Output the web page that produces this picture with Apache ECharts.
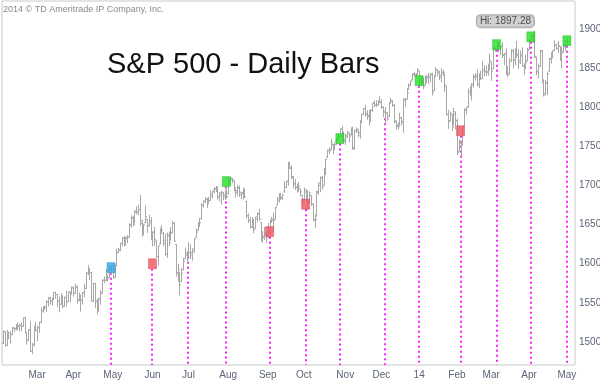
<!DOCTYPE html>
<html>
<head>
<meta charset="utf-8">
<script src="https://cdn.jsdelivr.net/npm/echarts@6/dist/echarts.min.js"></script>
<style>
html,body{margin:0;padding:0;background:#fff;}
#chart{width:600px;height:382px;}
</style>
</head>
<body>
<div id="chart"></div>
<script>
// Trading days per month (categories)
const tradingMonths = [
  ['2013-02',[1,4,5,6,7,8,11,12,13,14,15,19,20,21,22,25,26,27,28]],
  ['2013-03',[1,4,5,6,7,8,11,12,13,14,15,18,19,20,21,22,25,26,27,28]],
  ['2013-04',[1,2,3,4,5,8,9,10,11,12,15,16,17,18,19,22,23,24,25,26,29,30]],
  ['2013-05',[1,2,3,6,7,8,9,10,13,14,15,16,17,20,21,22,23,24,28,29,30,31]],
  ['2013-06',[3,4,5,6,7,10,11,12,13,14,17,18,19,20,21,24,25,26,27,28]],
  ['2013-07',[1,2,3,5,8,9,10,11,12,15,16,17,18,19,22,23,24,25,26,29,30,31]],
  ['2013-08',[1,2,5,6,7,8,9,12,13,14,15,16,19,20,21,22,23,26,27,28,29,30]],
  ['2013-09',[3,4,5,6,9,10,11,12,13,16,17,18,19,20,23,24,25,26,27,30]],
  ['2013-10',[1,2,3,4,7,8,9,10,11,14,15,16,17,18,21,22,23,24,25,28,29,30,31]],
  ['2013-11',[1,4,5,6,7,8,11,12,13,14,15,18,19,20,21,22,25,26,27,29]],
  ['2013-12',[2,3,4,5,6,9,10,11,12,13,16,17,18,19,20,23,24,26,27,30,31]],
  ['2014-01',[2,3,6,7,8,9,10,13,14,15,16,17,21,22,23,24,27,28,29,30,31]],
  ['2014-02',[3,4,5,6,7,10,11,12,13,14,18,19,20,21,24,25,26,27,28]],
  ['2014-03',[3,4,5,6,7,10,11,12,13,14,17,18,19,20,21,24,25,26,27,28,31]],
  ['2014-04',[1,2,3,4,7,8,9,10,11,14,15,16,17,21,22,23,24,25,28,29,30]],
  ['2014-05',[1,2,5,6,7]]
];

// Daily bars [open, high, low, close], one per trading day from 2013-02-01 to 2014-05-01
const dailyBars = [
 // Feb 2013
 [1498.1,1514.4,1498.1,1513.2],[1513.2,1513.2,1495.0,1495.7],[1495.7,1514.8,1495.7,1511.3],[1511.3,1512.5,1504.0,1512.1],
 [1512.1,1512.9,1498.5,1509.4],[1509.4,1518.3,1509.4,1517.9],[1517.9,1518.3,1513.6,1517.0],[1517.0,1522.3,1515.6,1519.4],
 [1519.4,1524.7,1515.9,1520.3],[1520.3,1523.1,1514.0,1521.4],[1521.4,1524.2,1514.1,1519.8],[1519.8,1530.9,1519.8,1530.9],
 [1530.9,1530.9,1511.4,1511.9],[1511.9,1511.9,1497.3,1502.4],[1502.4,1515.6,1502.4,1515.6],[1515.6,1525.8,1487.9,1487.9],
 [1487.9,1497.9,1485.0,1496.9],[1496.9,1520.1,1494.9,1516.0],[1516.0,1525.3,1514.5,1514.7],
 // Mar 2013
 [1514.7,1520.0,1501.5,1518.2],[1518.2,1525.3,1512.3,1525.2],[1525.2,1543.5,1525.2,1539.8],[1539.8,1545.3,1538.1,1541.5],
 [1541.5,1545.8,1541.5,1544.3],[1544.3,1552.5,1539.0,1551.2],[1551.2,1556.3,1546.0,1556.2],[1556.2,1556.8,1548.2,1552.5],
 [1552.5,1556.4,1547.4,1554.5],[1554.5,1563.3,1554.5,1563.2],[1563.2,1563.6,1555.7,1560.7],[1560.7,1560.7,1545.1,1552.1],
 [1552.1,1557.3,1538.6,1548.3],[1548.3,1561.6,1548.3,1558.7],[1558.7,1558.7,1543.6,1545.8],[1545.8,1557.7,1545.8,1556.9],
 [1556.9,1564.9,1546.2,1551.7],[1551.7,1563.9,1551.7,1563.8],[1563.8,1564.1,1551.5,1562.9],[1562.9,1570.3,1561.1,1569.2],
 // Apr 2013
 [1569.2,1570.6,1558.5,1562.2],[1562.2,1573.7,1562.2,1570.3],[1570.3,1571.5,1549.8,1553.7],[1553.7,1562.6,1552.5,1560.0],
 [1560.0,1560.0,1539.5,1553.3],[1553.3,1563.1,1548.6,1563.1],[1563.1,1573.9,1557.9,1568.6],[1568.6,1589.1,1568.6,1587.7],
 [1587.7,1597.4,1586.2,1593.4],[1593.3,1593.3,1580.0,1588.9],[1588.8,1588.8,1552.3,1552.4],[1552.4,1575.3,1552.4,1574.6],
 [1574.6,1574.6,1543.7,1552.0],[1552.0,1554.4,1536.0,1541.6],[1541.6,1555.9,1539.4,1555.3],[1555.3,1565.6,1548.2,1562.5],
 [1562.5,1579.6,1562.5,1578.8],[1578.8,1583.0,1575.8,1578.8],[1578.8,1592.6,1578.8,1585.2],[1585.2,1585.8,1577.6,1582.2],
 [1582.3,1596.7,1582.3,1593.6],[1593.6,1597.6,1586.5,1597.6],
 // May 2013
 [1597.6,1597.6,1581.3,1582.7],[1582.8,1598.6,1582.8,1597.6],[1597.6,1618.5,1597.6,1614.4],[1614.4,1619.8,1614.2,1617.5],
 [1617.5,1626.0,1616.6,1626.0],[1626.0,1632.8,1622.7,1632.7],[1632.7,1635.0,1623.1,1626.7],[1626.7,1633.7,1623.7,1633.7],
 [1632.1,1636.0,1626.7,1633.8],[1633.8,1651.1,1633.8,1650.3],[1649.1,1661.5,1646.7,1658.8],[1658.1,1660.5,1648.6,1650.5],
 [1652.5,1667.5,1652.5,1667.5],[1665.7,1672.8,1663.5,1666.3],[1666.2,1674.9,1662.7,1669.2],[1669.4,1687.2,1648.9,1655.4],
 [1651.6,1655.5,1635.5,1650.5],[1646.7,1649.8,1636.9,1649.6],[1652.6,1674.2,1652.6,1660.1],[1656.6,1656.6,1640.1,1648.4],
 [1649.1,1661.9,1648.6,1654.4],[1652.1,1659.0,1630.7,1630.7],
 // Jun 2013
 [1631.7,1640.4,1622.7,1640.4],[1640.7,1646.5,1623.6,1631.4],[1629.1,1629.3,1608.4,1608.9],[1609.4,1622.6,1598.2,1622.6],
 [1625.3,1644.4,1625.3,1643.4],[1644.7,1648.7,1639.3,1642.8],[1638.6,1640.1,1622.9,1626.1],[1629.9,1637.7,1610.9,1612.5],
 [1612.2,1639.3,1608.1,1636.4],[1635.5,1640.8,1623.0,1626.7],[1630.6,1646.5,1630.3,1639.0],[1639.8,1654.2,1639.8,1651.8],
 [1651.8,1652.5,1628.9,1628.9],[1624.6,1624.6,1584.3,1588.2],[1588.6,1599.2,1577.7,1592.4],[1588.8,1588.8,1560.3,1573.1],
 [1577.5,1593.8,1577.1,1588.0],[1592.3,1606.8,1592.3,1603.3],[1606.4,1620.1,1606.4,1613.2],[1611.1,1615.9,1601.1,1606.3],
 // Jul 2013
 [1609.8,1626.6,1609.8,1614.1],[1614.3,1624.3,1606.8,1614.1],[1611.5,1619.0,1604.6,1615.4],[1618.7,1632.1,1614.7,1631.9],
 [1634.2,1644.7,1634.2,1640.5],[1642.9,1652.5,1642.9,1652.3],[1652.5,1657.9,1647.7,1652.6],[1657.4,1676.6,1657.4,1675.0],
 [1675.3,1680.2,1672.3,1680.2],[1679.6,1684.5,1677.9,1682.5],[1682.7,1683.7,1671.8,1676.3],[1677.9,1684.8,1677.9,1680.9],
 [1681.1,1693.1,1681.1,1689.4],[1686.2,1692.1,1684.1,1692.1],[1694.4,1697.6,1690.7,1695.5],[1696.1,1698.8,1692.1,1692.4],
 [1696.1,1698.4,1682.6,1685.9],[1685.2,1690.9,1680.2,1690.3],[1687.3,1691.9,1676.0,1691.7],[1690.3,1690.9,1681.9,1685.3],
 [1687.9,1693.2,1682.4,1686.0],[1687.8,1698.4,1684.9,1685.7],
 // Aug 2013
 [1689.4,1707.9,1689.4,1706.9],[1706.1,1709.7,1700.7,1709.7],[1708.0,1709.2,1703.6,1707.1],[1705.8,1705.8,1693.3,1697.4],
 [1695.3,1695.3,1684.9,1690.9],[1693.4,1700.2,1687.1,1697.5],[1696.1,1699.4,1686.0,1691.4],[1688.4,1691.5,1683.4,1689.5],
 [1690.7,1696.8,1682.6,1694.2],[1693.9,1695.5,1684.8,1685.4],[1679.6,1679.6,1658.6,1661.3],[1661.2,1663.6,1652.6,1655.8],
 [1655.3,1659.2,1646.1,1646.1],[1646.8,1658.9,1646.1,1652.4],[1650.7,1657.0,1639.4,1642.8],[1645.0,1659.6,1645.0,1657.0],
 [1659.9,1664.9,1653.7,1663.5],[1664.3,1669.5,1656.0,1656.8],[1652.5,1652.5,1629.1,1630.5],[1630.2,1641.2,1627.5,1635.0],
 [1633.5,1646.4,1630.9,1638.2],[1638.9,1640.1,1628.0,1633.0],
 // Sep 2013
 [1636.0,1651.4,1633.4,1639.8],[1640.7,1655.7,1637.4,1653.1],[1653.3,1659.2,1653.1,1655.1],[1657.4,1664.8,1640.6,1655.2],
 [1656.9,1672.4,1656.9,1671.7],[1675.1,1684.1,1675.1,1684.0],[1681.0,1689.1,1678.7,1689.1],[1689.2,1690.0,1682.0,1683.4],
 [1685.0,1688.7,1682.2,1688.0],[1691.7,1705.0,1691.7,1697.6],[1697.7,1705.5,1697.7,1704.8],[1705.7,1729.4,1700.4,1725.5],
 [1727.3,1729.9,1721.6,1722.3],[1722.4,1725.2,1708.9,1709.9],[1711.4,1711.4,1697.1,1701.8],[1702.6,1707.6,1694.9,1697.4],
 [1698.0,1701.7,1691.9,1692.8],[1694.1,1703.9,1693.1,1698.7],[1695.5,1695.5,1687.1,1691.8],[1687.3,1687.3,1675.0,1681.6],
 // Oct 2013
 [1682.4,1696.6,1682.1,1695.0],[1691.9,1693.9,1680.3,1693.9],[1692.4,1692.4,1670.4,1678.7],[1678.8,1691.9,1677.3,1690.5],
 [1687.2,1687.2,1674.7,1676.1],[1676.2,1676.8,1655.0,1655.5],[1657.0,1662.5,1646.5,1656.4],[1660.9,1692.6,1660.9,1692.6],
 [1691.1,1703.4,1688.5,1703.2],[1699.9,1711.0,1692.1,1710.1],[1709.2,1711.6,1695.5,1698.1],[1700.5,1721.8,1700.5,1721.5],
 [1720.2,1733.4,1714.1,1733.2],[1736.7,1745.3,1735.7,1744.5],[1745.2,1747.8,1740.7,1744.7],[1746.5,1759.3,1746.5,1754.7],
 [1752.3,1752.3,1740.5,1746.4],[1747.5,1753.9,1745.5,1752.1],[1756.0,1759.8,1752.5,1759.8],[1759.4,1765.0,1757.7,1762.1],
 [1762.9,1772.1,1762.9,1772.0],[1772.3,1775.2,1757.2,1763.3],[1763.2,1768.5,1755.7,1756.5],
 // Nov 2013
 [1758.7,1765.7,1752.3,1761.6],[1763.4,1768.8,1761.6,1767.9],[1765.7,1767.0,1755.8,1763.0],[1765.0,1773.7,1764.4,1770.5],
 [1770.7,1774.5,1746.2,1747.2],[1748.4,1770.8,1746.2,1770.6],[1770.0,1773.4,1767.5,1771.9],[1769.5,1771.8,1762.3,1767.7],
 [1764.4,1782.0,1760.6,1782.0],[1782.8,1791.0,1780.2,1790.6],[1790.7,1798.2,1790.7,1798.2],[1798.8,1802.3,1788.4,1791.5],
 [1790.8,1795.5,1784.7,1787.9],[1789.6,1795.7,1777.2,1781.4],[1783.5,1797.2,1783.5,1795.9],[1796.2,1804.3,1794.7,1804.8],
 [1806.3,1808.1,1800.6,1802.5],[1802.9,1808.4,1800.8,1802.8],[1803.5,1808.3,1802.8,1807.2],[1808.0,1813.6,1806.0,1805.8],
 // Dec 2013
 [1806.6,1810.0,1798.6,1800.9],[1800.1,1800.1,1787.9,1795.2],[1793.6,1799.8,1779.1,1792.8],[1792.8,1792.8,1783.4,1785.0],
 [1788.4,1806.0,1788.4,1805.1],[1806.2,1811.5,1806.2,1808.4],[1807.6,1808.5,1801.4,1802.6],[1802.8,1803.0,1780.1,1782.2],
 [1781.7,1783.0,1772.3,1775.5],[1777.0,1780.0,1772.5,1775.3],[1777.5,1792.2,1777.5,1786.5],[1786.5,1786.8,1777.2,1781.0],
 [1781.5,1811.1,1768.0,1810.7],[1809.0,1810.9,1801.3,1809.6],[1810.4,1823.8,1810.4,1818.3],[1822.9,1829.8,1822.9,1828.0],
 [1828.0,1833.3,1828.0,1833.3],[1835.0,1842.8,1835.0,1842.0],[1843.0,1844.9,1839.8,1841.4],[1841.5,1842.5,1838.8,1841.1],
 [1842.6,1849.4,1842.4,1848.4],
 // Jan 2014
 [1845.9,1845.9,1827.7,1832.0],[1833.2,1838.2,1829.1,1831.4],[1832.3,1837.2,1823.7,1826.8],[1828.7,1840.1,1828.7,1837.9],
 [1837.9,1840.0,1831.4,1837.5],[1839.0,1843.2,1830.4,1838.1],[1840.1,1843.0,1832.4,1842.4],[1841.3,1843.5,1815.5,1819.2],
 [1821.4,1839.3,1821.4,1838.9],[1840.5,1850.8,1840.5,1848.4],[1848.0,1848.0,1840.3,1845.9],[1844.2,1846.0,1835.2,1838.7],
 [1841.1,1849.3,1832.4,1843.8],[1844.7,1846.9,1840.9,1844.9],[1842.3,1842.3,1820.1,1828.5],[1827.0,1827.0,1790.3,1790.3],
 [1791.0,1796.0,1772.9,1781.6],[1783.0,1793.9,1783.0,1792.5],[1790.2,1790.2,1770.5,1774.2],[1777.2,1798.8,1777.2,1794.2],
 [1790.9,1793.9,1772.3,1782.6],
 // Feb 2014
 [1782.7,1784.8,1739.7,1741.9],[1743.8,1758.7,1743.8,1755.2],[1753.4,1755.8,1737.9,1751.6],[1753.0,1774.1,1753.0,1773.4],
 [1776.0,1798.0,1776.0,1797.0],[1796.2,1799.9,1791.8,1799.8],[1800.5,1823.5,1800.4,1819.8],[1820.1,1826.6,1816.0,1819.3],
 [1814.8,1830.3,1809.2,1829.8],[1828.5,1841.7,1825.6,1838.6],[1839.0,1842.9,1835.0,1840.8],[1838.9,1847.5,1827.0,1828.8],
 [1829.2,1842.8,1824.9,1839.8],[1841.1,1846.1,1835.6,1836.3],[1836.8,1858.7,1836.8,1847.6],[1847.7,1852.9,1840.2,1845.1],
 [1845.8,1852.7,1840.7,1845.2],[1844.9,1854.5,1841.1,1854.3],[1855.1,1867.9,1847.5,1859.5],
 // Mar 2014
 [1857.7,1857.7,1834.4,1845.7],[1849.2,1876.2,1849.2,1873.9],[1874.1,1876.5,1871.6,1873.8],[1874.2,1881.9,1874.2,1877.0],
 [1878.5,1883.6,1870.6,1878.0],[1877.9,1877.9,1867.0,1877.2],[1878.3,1882.4,1863.9,1867.6],[1866.2,1868.4,1854.4,1868.2],
 [1869.1,1874.4,1841.9,1846.3],[1845.1,1852.4,1839.6,1841.1],[1842.8,1862.3,1842.8,1858.8],[1858.9,1873.8,1858.9,1872.3],
 [1872.3,1874.1,1850.4,1860.8],[1860.1,1873.5,1854.6,1872.0],[1874.5,1884.0,1863.5,1866.5],[1867.7,1873.3,1849.7,1857.4],
 [1859.5,1871.9,1856.0,1865.6],[1867.1,1875.9,1852.6,1852.6],[1852.1,1855.6,1842.1,1849.0],[1850.1,1866.6,1850.1,1857.6],
 [1859.2,1875.2,1859.2,1872.3],
 // Apr 2014
 [1874.0,1885.8,1874.0,1885.5],[1886.6,1893.2,1883.8,1890.9],[1891.4,1893.8,1882.7,1888.8],[1890.3,1897.3,1863.3,1865.1],
 [1863.9,1864.0,1841.5,1845.0],[1845.5,1855.0,1837.5,1852.0],[1852.6,1872.4,1852.4,1872.2],[1872.3,1872.5,1833.0,1833.1],
 [1830.7,1835.1,1814.4,1815.7],[1818.2,1834.2,1815.8,1830.6],[1831.5,1844.0,1816.3,1843.0],[1846.0,1862.3,1846.0,1862.3],
 [1861.7,1869.6,1856.7,1864.9],[1865.8,1871.9,1863.2,1871.9],[1872.6,1884.9,1872.6,1879.6],[1879.3,1879.8,1873.9,1875.4],
 [1882.0,1884.1,1870.2,1878.6],[1877.7,1877.7,1859.7,1863.4],[1865.0,1877.0,1850.6,1869.4],[1870.8,1880.6,1870.8,1878.3],
 [1877.1,1885.2,1872.7,1884.0],
 // May 2014
 [1884.4,1888.6,1878.0,1883.7]
];

// Turn-of-month signals
const signalDates  = ['2013-04-30','2013-06-03','2013-07-01','2013-07-31','2013-09-04','2013-10-02','2013-10-29','2013-12-04','2014-01-02','2014-02-05','2014-03-06','2014-04-02','2014-05-01'];
const signalValues = [1595,1600,1609,1705,1641,1676,1760,1786,1834,1770,1880,1890,1885];
const signalKinds  = ['blue','red','none','green','red','red','green','none','green','red','green','green','green'];

const yTickLabels = [1500,1550,1600,1650,1700,1750,1800,1850,1900];
const hiDate = '2014-04-04';
const hiValue = 1897.28;

const monthNames = ['Jan','Feb','Mar','Apr','May','Jun','Jul','Aug','Sep','Oct','Nov','Dec'];

const dates = [];
tradingMonths.forEach(([ym, days]) => days.forEach(d => dates.push(ym + '-' + String(d).padStart(2,'0'))));

const barData = dailyBars.map((b, i) => [dates[i], b[0], b[1], b[2], b[3]]);

const kindColor = {green:'#22e022', red:'#f0525e', blue:'#2aaae8'};
const kindBorder = {green:'#17b017', red:'#c83a46', blue:'#1a88c0'};

const chart = echarts.init(document.getElementById('chart'), null, {renderer:'canvas'});
const Y_MIN = 1470.6, Y_MAX = 1935.8;

const option = {
  animation: false,
  backgroundColor: '#ffffff',
  grid: {left: 2, right: 25, top: 1, bottom: 17, outerBoundsMode: 'none', containLabel: false,
         show: true, borderColor: '#c9c9c9', borderWidth: 1, backgroundColor: 'transparent'},
  xAxis: {
    type: 'category',
    data: dates,
    boundaryGap: true,
    axisLine: {show: false},
    axisTick: {show: false},
    splitLine: {show: false},
    axisLabel: {
      color: '#5b6577',
      fontSize: 10,
      fontFamily: 'Liberation Sans',
      margin: 5,
      interval: function (idx, val) {
        if (idx === 0) return false;
        return dates[idx - 1].slice(0,7) !== val.slice(0,7);
      },
      formatter: function (val) {
        const m = parseInt(val.slice(5,7),10) - 1;
        if (m === 0) return val.slice(2,4);
        return monthNames[m];
      }
    }
  },
  yAxis: {
    type: 'value',
    position: 'right',
    min: Y_MIN,
    max: Y_MAX,
    axisLine: {show: false},
    axisTick: {show: false},
    splitLine: {show: false},
    axisLabel: {
      customValues: yTickLabels,
      formatter: function (v) { return String(Math.round(v)); },
      color: '#5b6577',
      fontSize: 10,
      fontFamily: 'Liberation Sans',
      margin: 4
    }
  },
  graphic: [
    {type:'text', left: 3, top: 5, style:{text:'2014 © TD Ameritrade IP Company, Inc.', fill:'#8a8a8a', font:'9px "Liberation Sans"'}},
    {type:'text', left: 107, top: 50, style:{text:'S&P 500 - Daily Bars', fill:'#111111', font:'29px "Liberation Sans"'}}
  ],
  series: [
    {
      type: 'custom',
      name: 'signal lines',
      data: signalDates.map((d,i) => [d, signalValues[i], signalKinds[i] === 'none' ? 0 : 1]),
      encode: {x: 0, y: 1},
      z: 1,
      renderItem: function (params, api) {
        const p = api.coord([api.value(0), api.value(1)]);
        const bottom = api.coord([api.value(0), Y_MIN]);
        const startY = p[1] + (api.value(2) ? 5 : 0);
        const x = Math.round(p[0]);
        return {type:'line', shape:{x1:x, y1:startY, x2:x, y2:bottom[1]},
          style:{stroke:'#ff22ff', lineWidth:2, lineDash:[2,3]}};
      }
    },
    {
      type: 'custom',
      name: 'S&P 500',
      data: barData,
      encode: {x: 0, y: [1,2,3,4]},
      z: 2,
      renderItem: function (params, api) {
        const i = api.value(0);
        const pO = api.coord([i, api.value(1)]);
        const pH = api.coord([i, api.value(2)]);
        const pL = api.coord([i, api.value(3)]);
        const pC = api.coord([i, api.value(4)]);
        const x = Math.round(pH[0]) + 0.5;
        const st = {stroke:'#a8a8a8', lineWidth:1};
        return {type:'group', children:[
          {type:'line', shape:{x1:x, y1:pH[1]-0.5, x2:x, y2:pL[1]+0.5}, style:st},
          {type:'line', shape:{x1:x-1.5, y1:pO[1], x2:x, y2:pO[1]}, style:st},
          {type:'line', shape:{x1:x, y1:pC[1], x2:x+1.5, y2:pC[1]}, style:st}
        ]};
      }
    },
    {
      type: 'scatter',
      name: 'signals',
      z: 3,
      symbol: 'rect',
      symbolSize: [8,10],
      data: signalDates.map((d,i) => ({
        value: [d, signalValues[i]],
        symbolSize: signalKinds[i] === 'none' ? 0 : [8,10],
        itemStyle: signalKinds[i] === 'none' ? {opacity:0} : {color: kindColor[signalKinds[i]], borderColor: kindBorder[signalKinds[i]], borderWidth: 0.5}
      })),
      label: {show: false}
    },
    {
      type: 'scatter',
      name: 'hi',
      z: 4,
      symbolSize: 0,
      data: [[hiDate, hiValue]],
      label: {
        show: true,
        position: 'top',
        distance: 4,
        offset: [-29, 0],
        formatter: 'Hi: 1897.28',
        color: '#2a2a2a',
        fontSize: 10,
        fontFamily: 'Liberation Sans',
        backgroundColor: '#c6c6c6',
        borderColor: '#9a9a9a',
        borderWidth: 1,
        borderRadius: 4,
        padding: [1,3,1,3]
      }
    }
  ]
};
chart.setOption(option);
</script>
</body>
</html>
